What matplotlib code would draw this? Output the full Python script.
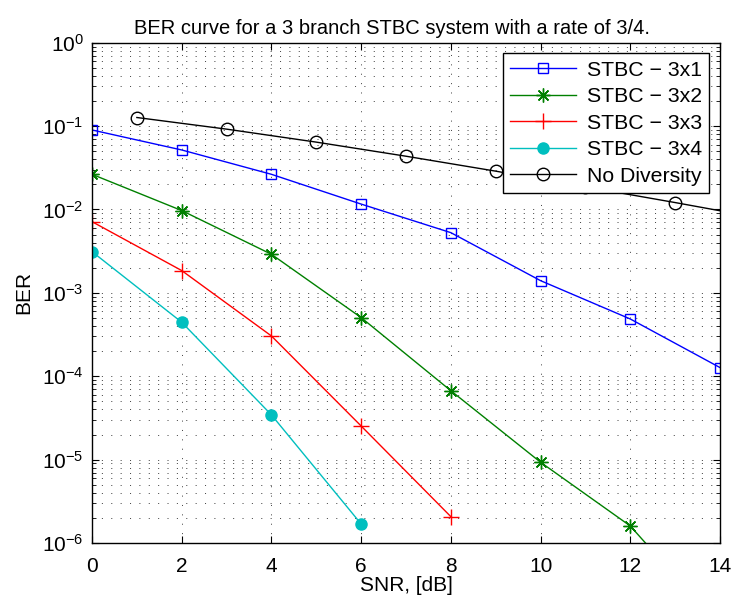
import matplotlib
matplotlib.use("Agg")
import matplotlib.pyplot as plt
from matplotlib.ticker import NullFormatter

plt.rcParams['font.family'] = ['Liberation Sans', 'DejaVu Sans']

# SNR points (dB)
snr_even = [0, 2, 4, 6, 8, 10, 12, 14]
snr_odd = [1, 3, 5, 7, 9, 11, 13, 15]

# simulated BER per receive configuration
ber_3x1 = [0.0898, 0.0517, 0.0264, 0.0116, 0.00527, 0.0014, 0.000486, 0.000127]
ber_3x2 = [0.0264, 0.0097, 0.0029, 0.000505, 6.7e-5, 9.3e-6, 1.6e-6, 1.0e-7]
ber_3x3 = [0.00714, 0.00185, 0.000304, 2.53e-5, 2.07e-6]
ber_3x4 = [0.00312, 0.000444, 3.44e-5, 1.69e-6]
# theoretical Rayleigh BPSK, single antenna
ber_nodiv = [0.1267, 0.0919, 0.0642, 0.0435, 0.0288, 0.0187, 0.0121, 0.0077]

ber_ticks = [1e-6, 1e-5, 1e-4, 1e-3, 1e-2, 1e-1, 1]


def main():
    fig = plt.figure(figsize=(7.32, 6.03), dpi=100)
    ax = fig.add_axes([0.1257, 0.0995, 0.8579, 0.8297])

    ax.semilogy(snr_even, ber_3x1, '-', color='b', marker='s', ms=7,
                mfc='none', mew=1, lw=1, label='STBC \u2212 3x1')
    ax.semilogy(snr_even, ber_3x2, '-', color=(0, 0.5, 0), marker=(8, 2, 0),
                ms=10, mew=1, lw=1, label='STBC \u2212 3x2')
    ax.semilogy(snr_even[:len(ber_3x3)], ber_3x3, '-', color='r', marker='+',
                ms=11, mew=1, lw=1, label='STBC \u2212 3x3')
    ax.semilogy(snr_even[:len(ber_3x4)], ber_3x4, '-', color=(0, 0.75, 0.75),
                marker='o', ms=8, mec=(0, 0.75, 0.75), lw=1,
                label='STBC \u2212 3x4')
    ax.semilogy(snr_odd, ber_nodiv, '-', color='k', marker='o', ms=9,
                mfc='none', mew=1, lw=1, label='No Diversity')

    ax.set_xlim(0, 14)
    ax.set_ylim(1e-6, 1)
    ax.set_xticks(range(0, 15, 2))
    ax.set_yticks(ber_ticks)
    ax.yaxis.set_minor_formatter(NullFormatter())

    ax.grid(True, which='both', axis='y', color='k',
            linestyle=(0, (1.5, 12)), linewidth=0.5)
    ax.grid(True, which='major', axis='x', color='k',
            linestyle=(0, (1.5, 12)), linewidth=0.5)

    ax.tick_params(which='both', direction='in', top=True, right=True,
                   labelsize=15)
    ax.tick_params(axis='x', which='both', pad=10)
    ax.tick_params(axis='y', which='both', pad=6)
    ax.tick_params(which='major', length=5)
    ax.tick_params(which='minor', length=3)
    for s in ax.spines.values():
        s.set_linewidth(1)

    title = ax.set_title(
        'BER curve for a 3 branch STBC system with a rate of 3/4.',
        fontsize=14.5, pad=6)
    title.set_x(0.478)
    ax.set_xlabel('SNR, [dB]', fontsize=15, labelpad=0)
    ax.set_ylabel('BER', fontsize=15, labelpad=6)

    leg = ax.legend(loc='upper right', fontsize=15.3, fancybox=False,
                    framealpha=1, edgecolor='k', handlelength=3.1,
                    borderaxespad=0.5, labelspacing=0.35, borderpad=0.35,
                    handletextpad=0.5)
    leg.get_frame().set_linewidth(1)

    fig.savefig('out.png', dpi=100)


if __name__ == "__main__":
    main()
